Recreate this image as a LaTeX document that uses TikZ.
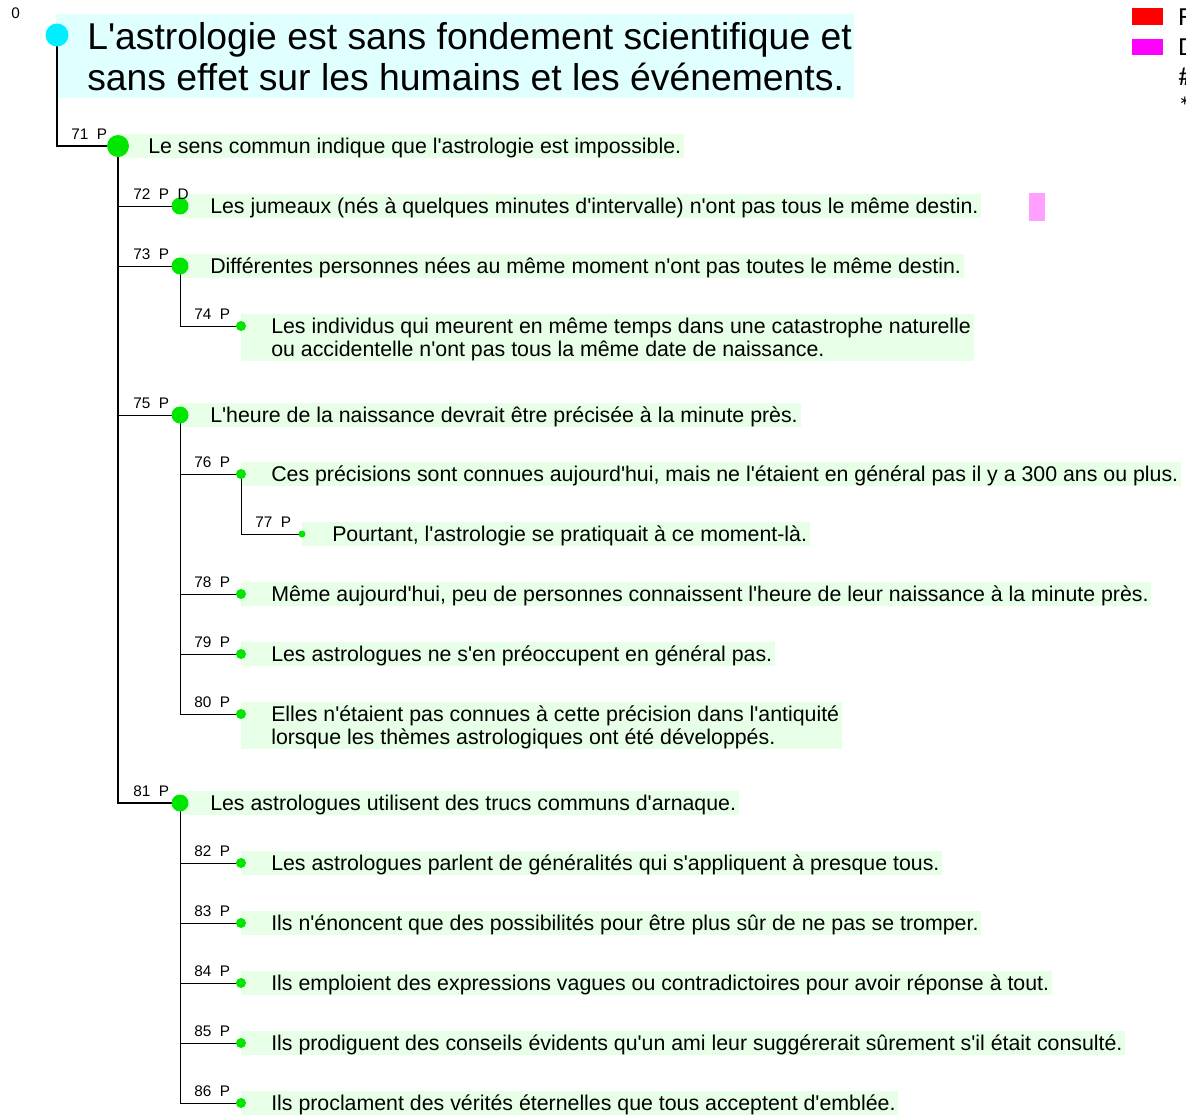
\documentclass[tikz,border=0pt]{standalone}
\usepackage{fontspec}
\setmainfont{Liberation Sans}[Ligatures=TeXOff]
\newfontfamily\legfont{Carlito}
\usetikzlibrary{calc}
\definecolor{boxgreen}{RGB}{230,255,230}
\definecolor{boxcyan}{RGB}{224,255,255}
\definecolor{dotgreen}{RGB}{0,230,0}
\definecolor{dotcyan}{RGB}{0,238,255}
\definecolor{pinkmark}{RGB}{255,160,255}
\definecolor{legred}{RGB}{255,0,0}
\definecolor{legmag}{RGB}{255,0,255}
\pgfdeclarelayer{boxes}
\pgfdeclarelayer{lines}
\pgfsetlayers{boxes,lines,main}
\tikzset{
  txt/.style={font=\fontsize{16}{17.25}\selectfont, inner sep=0pt, anchor=base west, align=left},
  roottxt/.style={font=\fontsize{28}{30.75}\selectfont, inner sep=0pt, anchor=base west, align=left},
  lab/.style={font=\fontsize{11.5}{13}\selectfont, inner sep=0pt, anchor=base west},
  legtxt/.style={font=\legfont\fontsize{19.5}{22}\selectfont, inner sep=0pt, anchor=base west},
  dotroot/.style={circle, fill=dotcyan, inner sep=0pt, minimum size=17.25pt},
  dotA/.style={circle, fill=dotgreen, inner sep=0pt, minimum size=16.5pt},
  dotB/.style={circle, fill=dotgreen, inner sep=0pt, minimum size=12.75pt},
  dotC/.style={circle, fill=dotgreen, inner sep=0pt, minimum size=7.5pt},
  dotD/.style={circle, fill=dotgreen, inner sep=0pt, minimum size=5.25pt},
  ln/.style={line width=0.75pt, black},
  rootln/.style={line width=1.1pt, black},
  thickln/.style={line width=1.5pt, black},
}
% #1 name, #2 x, #3 y, #4 dot style, #5 label, #6 text, #7 extra lines height
\newcommand{\itm}[7]{%
  \node[#4] (c#1) at (#2,#3) {};
  \node[txt] (t#1) at (#2+30,#3+7+#7) {#6};
  \node[lab] (l#1) at (#2-47,#3-7) {#5};
  \begin{pgfonlayer}{boxes}
    \fill[boxgreen] (#2,#3-12) rectangle ($(t#1.east |- c#1)+(2.5,12+#7)$);
  \end{pgfonlayer}%
}
\begin{document}
\begin{tikzpicture}[x=0.75pt,y=-0.75pt]
\useasboundingbox (0,0) rectangle (1186,1115);
% root
\node[lab] (l0) at (11,18) {0};
\node[dotroot] (c0) at (57,35) {};
\node[roottxt] (t0) at (87,90) {L'astrologie est sans fondement scientifique et\\sans effet sur les humains et les événements.};
\begin{pgfonlayer}{boxes}
  \fill[boxcyan] (56,14) rectangle ($(t0.east |- c0)+(2,63)$);
\end{pgfonlayer}
% items
\itm{71}{118}{146}{dotA}{71\ \ P}{Le sens commun indique que l'astrologie est impossible.}{0}
\itm{72}{180}{206}{dotB}{72\ \ P\ \ D}{Les jumeaux (nés à quelques minutes d'intervalle) n'ont pas tous le même destin.}{0}
\itm{73}{180}{266}{dotB}{73\ \ P}{Différentes personnes nées au même moment n'ont pas toutes le même destin.}{0}
\itm{74}{241}{326}{dotC}{74\ \ P}{Les individus qui meurent en même temps dans une catastrophe naturelle\\ou accidentelle n'ont pas tous la même date de naissance.}{23}
\itm{75}{180}{415}{dotB}{75\ \ P}{L'heure de la naissance devrait être précisée à la minute près.}{0}
\itm{76}{241}{474}{dotC}{76\ \ P}{Ces précisions sont connues aujourd'hui, mais ne l'étaient en général pas il y a 300 ans ou plus.}{0}
\itm{77}{302}{534}{dotD}{77\ \ P}{Pourtant, l'astrologie se pratiquait à ce moment-là.}{0}
\itm{78}{241}{594}{dotC}{78\ \ P}{Même aujourd'hui, peu de personnes connaissent l'heure de leur naissance à la minute près.}{0}
\itm{79}{241}{654}{dotC}{79\ \ P}{Les astrologues ne s'en préoccupent en général pas.}{0}
\itm{80}{241}{714}{dotC}{80\ \ P}{Elles n'étaient pas connues à cette précision dans l'antiquité\\lorsque les thèmes astrologiques ont été développés.}{23}
\itm{81}{180}{803}{dotB}{81\ \ P}{Les astrologues utilisent des trucs communs d'arnaque.}{0}
\itm{82}{241}{863}{dotC}{82\ \ P}{Les astrologues parlent de généralités qui s'appliquent à presque tous.}{0}
\itm{83}{241}{923}{dotC}{83\ \ P}{Ils n'énoncent que des possibilités pour être plus sûr de ne pas se tromper.}{0}
\itm{84}{241}{983}{dotC}{84\ \ P}{Ils emploient des expressions vagues ou contradictoires pour avoir réponse à tout.}{0}
\itm{85}{241}{1043}{dotC}{85\ \ P}{Ils prodiguent des conseils évidents qu'un ami leur suggérerait sûrement s'il était consulté.}{0}
\itm{86}{241}{1103}{dotC}{86\ \ P}{Ils proclament des vérités éternelles que tous acceptent d'emblée.}{0}
% connectors
\begin{pgfonlayer}{lines}
  \draw[rootln] (c0.center) |- (c71.center);
  \draw[thickln] (c71.center) |- (c81.center);
  \draw[ln] (c71.center |- c72.center) -- (c72.center);
  \draw[ln] (c71.center |- c73.center) -- (c73.center);
  \draw[ln] (c71.center |- c75.center) -- (c75.center);
  \draw[ln] (c73.center) |- (c74.center);
  \draw[ln] (c75.center) |- (c80.center);
  \draw[ln] (c75.center |- c76.center) -- (c76.center);
  \draw[ln] (c75.center |- c78.center) -- (c78.center);
  \draw[ln] (c75.center |- c79.center) -- (c79.center);
  \draw[ln] (c76.center) |- (c77.center);
  \draw[ln] (c81.center) |- (c86.center);
  \draw[ln] (c81.center |- c82.center) -- (c82.center);
  \draw[ln] (c81.center |- c83.center) -- (c83.center);
  \draw[ln] (c81.center |- c84.center) -- (c84.center);
  \draw[ln] (c81.center |- c85.center) -- (c85.center);
\end{pgfonlayer}
% marker
\fill[pinkmark] (1029,193) rectangle (1045,221);
% legend
\fill[legred] (1132,8) rectangle (1163,25);
\fill[legmag] (1132,39) rectangle (1163,55);
\node[legtxt] (lgF) at (1178,25) {F};
\node[legtxt] (lgD) at (1178,55) {D};
\node[legtxt] (lgH) at (1178,85) {\#};
\node[legtxt] (lgS) at (1178,115) {*};
\end{tikzpicture}
\end{document}
